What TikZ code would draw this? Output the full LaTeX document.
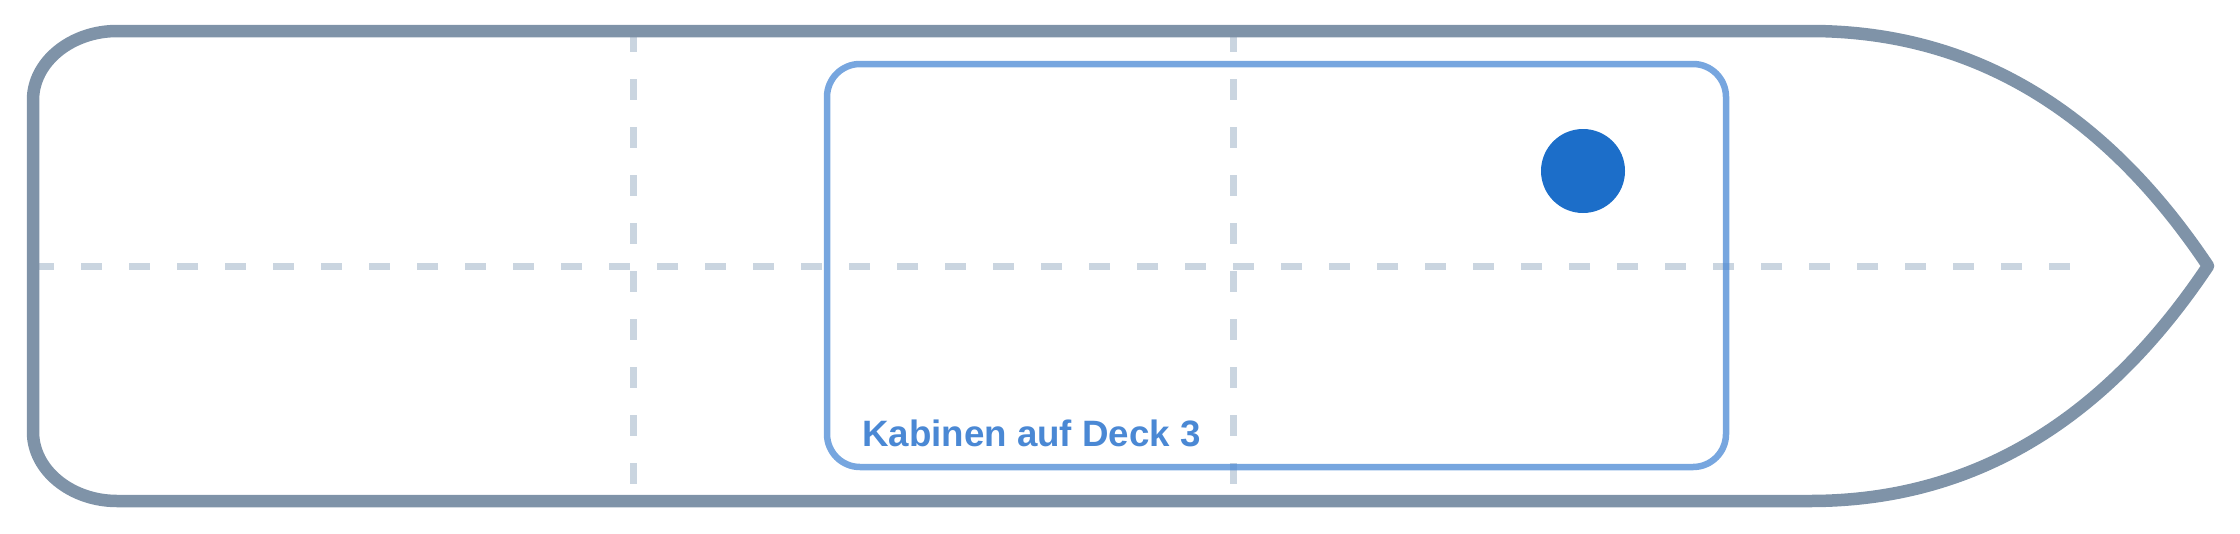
\documentclass[tikz,border=0pt]{standalone}
\usepackage{fontspec}
\setmainfont{Liberation Sans}
\usepackage{xcolor}
\usepackage{tikz}
\usetikzlibrary{calc}
\definecolor{hullgray}{HTML}{7F93A8}
\definecolor{gridgray}{HTML}{CAD5E0}
\definecolor{deckblue}{HTML}{4A88D4}
\definecolor{dotblue}{HTML}{1C6EC9}
\tikzstyle{hull}=[draw=hullgray,line width=12.5pt,line join=round]
\tikzstyle{gridline}=[draw=gridgray,line width=7pt,dash pattern=on 21pt off 27pt]
\tikzstyle{cabin}=[draw=deckblue,draw opacity=0.75,line width=6.5pt,rounded corners=33pt]
\tikzstyle{decklabel}=[text=deckblue,font=\fontsize{36.7}{44}\selectfont\bfseries,inner sep=0pt]

\begin{document}
\begin{tikzpicture}[x=1pt,y=-1pt]
        \useasboundingbox (0,0) rectangle (2240,533);

        \coordinate (S) at (33,266);
        \coordinate (E) at (2070,266);
        \coordinate (A1) at (633,31);
        \coordinate (A2) at (633,501);
        \coordinate (B1) at (1233,31);
        \coordinate (B2) at (1233,501);
        \coordinate (bow) at (2208,266);

        \draw [gridline] (S) -- (E);
        \draw [gridline] (A1) -- (A2);
        \draw [gridline] (B1) -- (B2);

        \draw [hull] (117,31) -- (1810,31)
            .. controls (1971,31) and (2103,109) .. (bow)
            .. controls (2103,423) and (1971,501) .. (1810,501)
            -- (117,501) .. controls (71,501) and (33,470) .. (33,432)
            -- (33,100) .. controls (33,62) and (71,31) .. (117,31) -- cycle;

        \draw [cabin] (827,64) rectangle (1726,467);
        \fill [dotblue] (1583,171) circle (42pt);

        \node [decklabel,anchor=base west] (deck) at (862,446) {Kabinen auf Deck 3};
    \end{tikzpicture}
\end{document}
